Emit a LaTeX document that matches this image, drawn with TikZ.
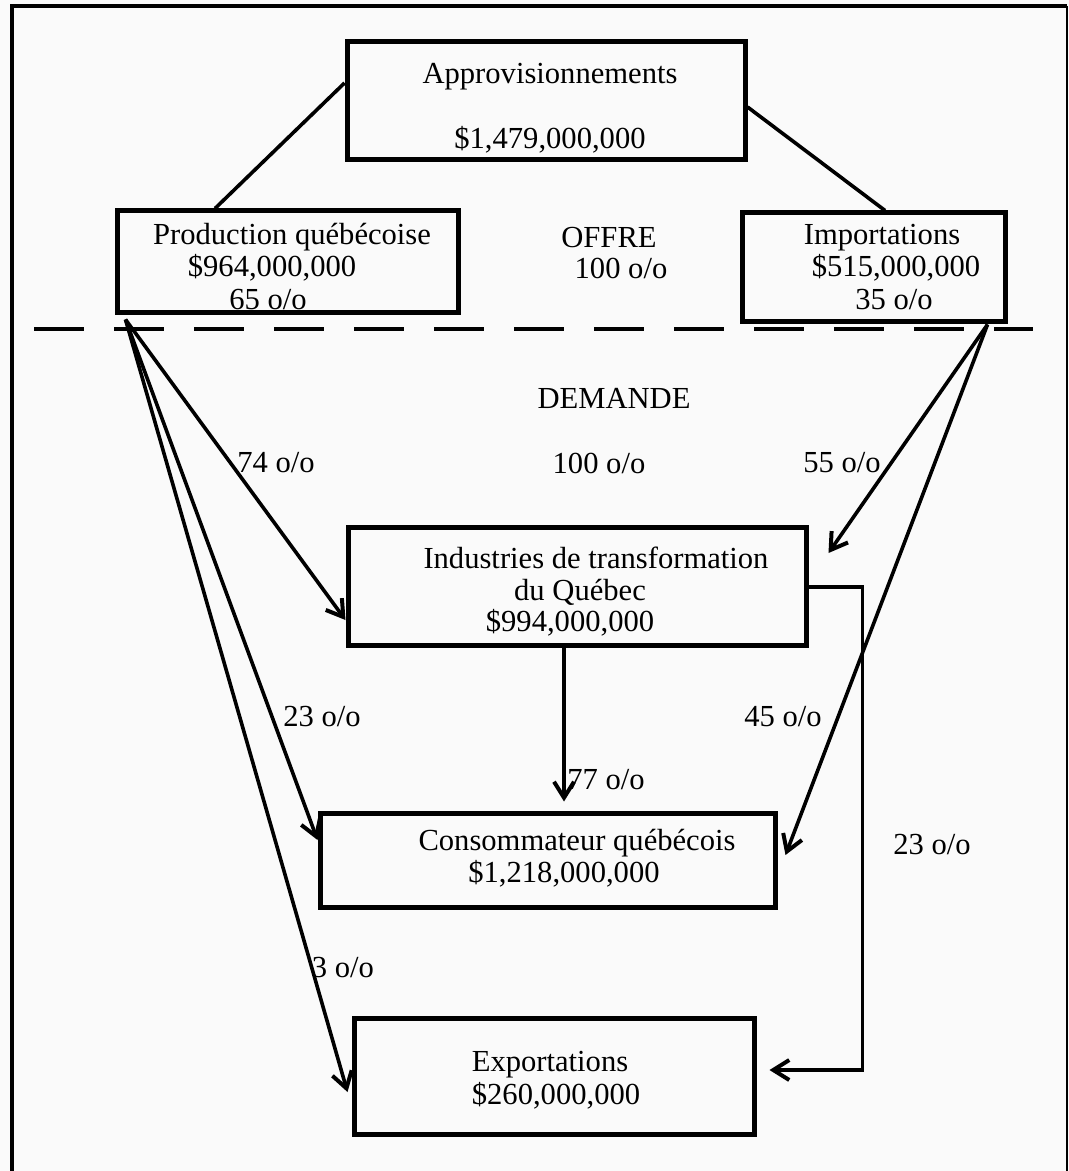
\documentclass[tikz,border=0pt]{standalone}
\usepackage{fontspec}
\setmainfont{Liberation Serif}
\usetikzlibrary{arrows.meta,calc}
\definecolor{paper}{RGB}{250,250,250}
\begin{document}
\begin{tikzpicture}[x=0.5pt,y=-0.5pt,
  every node/.style={font=\fontsize{15.3}{18}\selectfont},
  box/.style={draw,line width=2.5pt,rectangle,inner sep=0pt,minimum width=#1},
  lbl/.style={inner sep=0pt,anchor=center},
  link/.style={line width=1.8pt},
  flow/.style={line width=1.8pt,-{Straight Barb[length=8pt,width=10pt,line width=2pt]}},
  cut/.style={line width=2.2pt,dash pattern=on 25pt off 15pt}]
% sheet and frame
\fill[paper] (0,0) rectangle (1069,1171);
\useasboundingbox (0,0) rectangle (1069,1171);
\draw[line width=2pt] (12,1171) -- (12,6) -- (1067,6);
\draw[line width=0.8pt] (1067,6) -- (1067,1171);
% boxes
\node[box=199pt,minimum height=59pt]   (appro) at (546,101)   {};
\node[box=170.5pt,minimum height=51pt] (prod)  at (287.5,262) {};
\node[box=131.5pt,minimum height=54.5pt] (impo) at (873.5,267.5) {};
\node[box=229pt,minimum height=59pt]   (indus) at (577,586)   {};
\node[box=227.5pt,minimum height=47pt] (conso) at (547.5,860) {};
\node[box=200pt,minimum height=58pt]   (expo)  at (554,1076)  {};
% box texts
\node[lbl] (tA1) at (550,77)  {Approvisionnements};
\node[lbl] (tA2) at (550,140) {\$1,479,000,000};
\node[lbl] (tP1) at (292,237) {Production québécoise};
\node[lbl] (tP2) at (272,268) {\$964,000,000};
\node[lbl] (tP3) at (268,300) {65 o/o};
\node[lbl] (tI1) at (882,238) {Importations};
\node[lbl] (tI2) at (896,268) {\$515,000,000};
\node[lbl] (tI3) at (894,300) {35 o/o};
\node[lbl] (tT1) at (596,558) {Industries de transformation};
\node[lbl] (tT2) at (580,592) {du Québec};
\node[lbl] (tT3) at (570,623) {\$994,000,000};
\node[lbl] (tC1) at (577,843) {Consommateur québécois};
\node[lbl] (tC2) at (564,874) {\$1,218,000,000};
\node[lbl] (tE1) at (550,1065) {Exportations};
\node[lbl] (tE2) at (556,1096) {\$260,000,000};
% free labels
\node[lbl] (offre)   at (609,238) {OFFRE};
\node[lbl] (offrep)  at (621,268) {100 o/o};
\node[lbl] (demande) at (614,398) {DEMANDE};
\node[lbl] (demp)    at (599,463) {100 o/o};
\node[lbl] (p74) at (276,463) {74 o/o};
\node[lbl] (p55) at (842,463) {55 o/o};
\node[lbl] (p23a) at (322,717) {23 o/o};
\node[lbl] (p45) at (783,717) {45 o/o};
\node[lbl] (p77) at (606,780) {77 o/o};
\node[lbl] (p23b) at (932,845) {23 o/o};
\node[lbl] (p3) at (343,968) {3 o/o};
% supply split
\draw[link] ($(appro.west)+(0,-18)$) -- ($(prod.north)+(-72.5,0)$);
\draw[link] ($(appro.east)+(0,6)$) -- ($(impo.north)+(11.5,0)$);
% offer / demand divide
\coordinate (cutL) at (34,329);
\coordinate (cutR) at (1033,329);
\draw[cut] (cutL) -- (cutR);
% flows from local production
\coordinate (pOut) at ($(prod.south west)+(11,4)$);
\draw[flow] (pOut) -- ($(indus.west)+(0,34)$);
\draw[flow] (pOut) -- ($(conso.west)+(0,-20)$);
\draw[flow] (pOut) -- ($(expo.west)+(-4,16)$);
% flows from imports
\coordinate (iOut) at ($(impo.south east)+(-20,0)$);
\draw[flow] (iOut) -- ($(indus.east)+(20,-33)$);
\draw[flow] (iOut) -- ($(conso.east)+(8,-5)$);
% flows from processing industries
\draw[flow] ($(indus.south)+(-13,0)$) -- ($(conso.north)+(16.5,-9)$);
\draw[flow] ($(indus.east)+(0,1)$) -- ++(54,0) |- ($(expo.east)+(13,-6)$);
\end{tikzpicture}
\end{document}
